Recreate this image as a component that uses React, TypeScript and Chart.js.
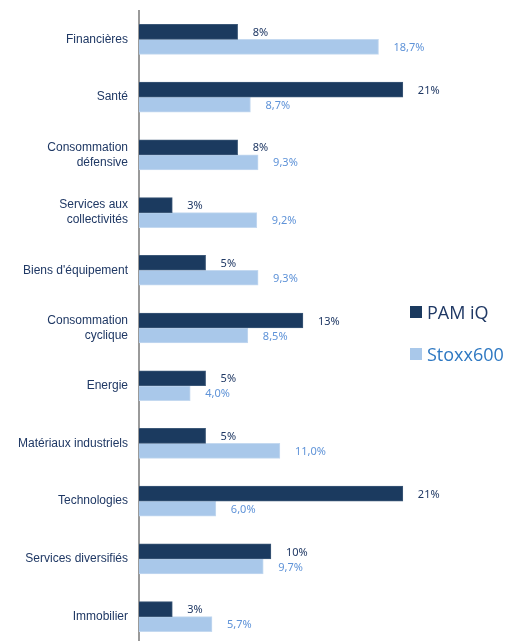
import React, { useEffect, useRef } from "react";
import { Chart, registerables } from "chart.js";

Chart.register(...registerables);

const categories: (string | string[])[] = [
  "Financières",
  "Santé",
  ["Consommation", "défensive"],
  ["Services aux", "collectivités"],
  "Biens d'équipement",
  ["Consommation", "cyclique"],
  "Energie",
  "Matériaux industriels",
  "Technologies",
  "Services diversifiés",
  "Immobilier",
];

const seriesNames = ["PAM iQ", "Stoxx600"];

const pamValues = [7.7, 20.6, 7.7, 2.6, 5.2, 12.8, 5.2, 5.2, 20.6, 10.3, 2.6];
const pamLabels = ["8%", "21%", "8%", "3%", "5%", "13%", "5%", "5%", "21%", "10%", "3%"];

const stoxxValues = [18.7, 8.7, 9.3, 9.2, 9.3, 8.5, 4.0, 11.0, 6.0, 9.7, 5.7];
const stoxxLabels = ["18,7%", "8,7%", "9,3%", "9,2%", "9,3%", "8,5%", "4,0%", "11,0%", "6,0%", "9,7%", "5,7%"];

const DARK = "#1b3a5f";
const LIGHT = "#a9c8ea";
const DARK_TEXT = "#1f3864";
const LIGHT_TEXT = "#5f93d8";
const LEGEND_LIGHT_TEXT = "#2e78c2";

const valueLabelPlugin = {
  id: "valueLabels",
  afterDatasetsDraw(chart: any) {
    const ctx = chart.ctx;
    const allLabels = [pamLabels, stoxxLabels];
    const colors = [DARK_TEXT, LIGHT_TEXT];
    ctx.save();
    ctx.font = "11px 'Noto Sans', sans-serif";
    ctx.textBaseline = "middle";
    ctx.textAlign = "left";
    chart.data.datasets.forEach((_ds: any, di: number) => {
      const meta = chart.getDatasetMeta(di);
      meta.data.forEach((bar: any, i: number) => {
        ctx.fillStyle = colors[di];
        ctx.fillText(allLabels[di][i], bar.x + 15, bar.y + 1);
      });
    });
    ctx.restore();
  },
};

export default function App() {
  const canvasRef = useRef<HTMLCanvasElement | null>(null);

  useEffect(() => {
    if (!canvasRef.current) return;
    const chart = new Chart(canvasRef.current, {
      type: "bar",
      data: {
        labels: categories,
        datasets: [
          {
            label: seriesNames[0],
            data: pamValues,
            backgroundColor: DARK,
            borderColor: "#3c5878",
            borderWidth: 1,
            barThickness: 15,
            categoryPercentage: 0.66,
          },
          {
            label: seriesNames[1],
            data: stoxxValues,
            backgroundColor: LIGHT,
            borderColor: "#c4d9f0",
            borderWidth: 1,
            barThickness: 15,
            categoryPercentage: 0.66,
          },
        ],
      },
      options: {
        indexAxis: "y",
        animation: false,
        responsive: false,
        maintainAspectRatio: false,
        layout: { padding: { top: 6, bottom: 3, right: 9, left: 0 } },
        plugins: {
          legend: { display: false },
          tooltip: { enabled: false },
        },
        scales: {
          x: {
            display: false,
            min: 0,
            max: 27.95,
          },
          y: {
            afterFit(scale: any) {
              scale.width = 139;
            },
            grid: { display: false, drawTicks: false },
            border: { display: true, color: "#9a9a9a", width: 2 },
            ticks: {
              color: DARK_TEXT,
              padding: 11,
              font: { family: "'Liberation Sans', Arial, sans-serif", size: 12, lineHeight: 1.25 },
            },
          },
        },
      },
      plugins: [valueLabelPlugin],
    });
    return () => chart.destroy();
  }, []);

  return (
    <div style={{ position: "absolute", left: 0, top: -8, width: 506, height: 672 }}>
      <canvas ref={canvasRef} width={506} height={672} style={{ display: "block" }} />
      <div
        style={{
          position: "absolute",
          left: 410,
          top: 308,
          fontFamily: "'Open Sans', sans-serif",
          fontSize: 18,
        }}
      >
        {seriesNames.map((name, i) => (
          <div
            key={name}
            style={{
              display: "flex",
              alignItems: "center",
              height: 24,
              marginBottom: i === 0 ? 18 : 0,
              color: i === 0 ? DARK_TEXT : LEGEND_LIGHT_TEXT,
            }}
          >
            <span
              style={{
                display: "inline-block",
                width: 12,
                height: 12,
                background: i === 0 ? DARK : LIGHT,
                marginRight: 5,
              }}
            />
            <span style={{ whiteSpace: "nowrap" }}>{name}</span>
          </div>
        ))}
      </div>
    </div>
  );
}
